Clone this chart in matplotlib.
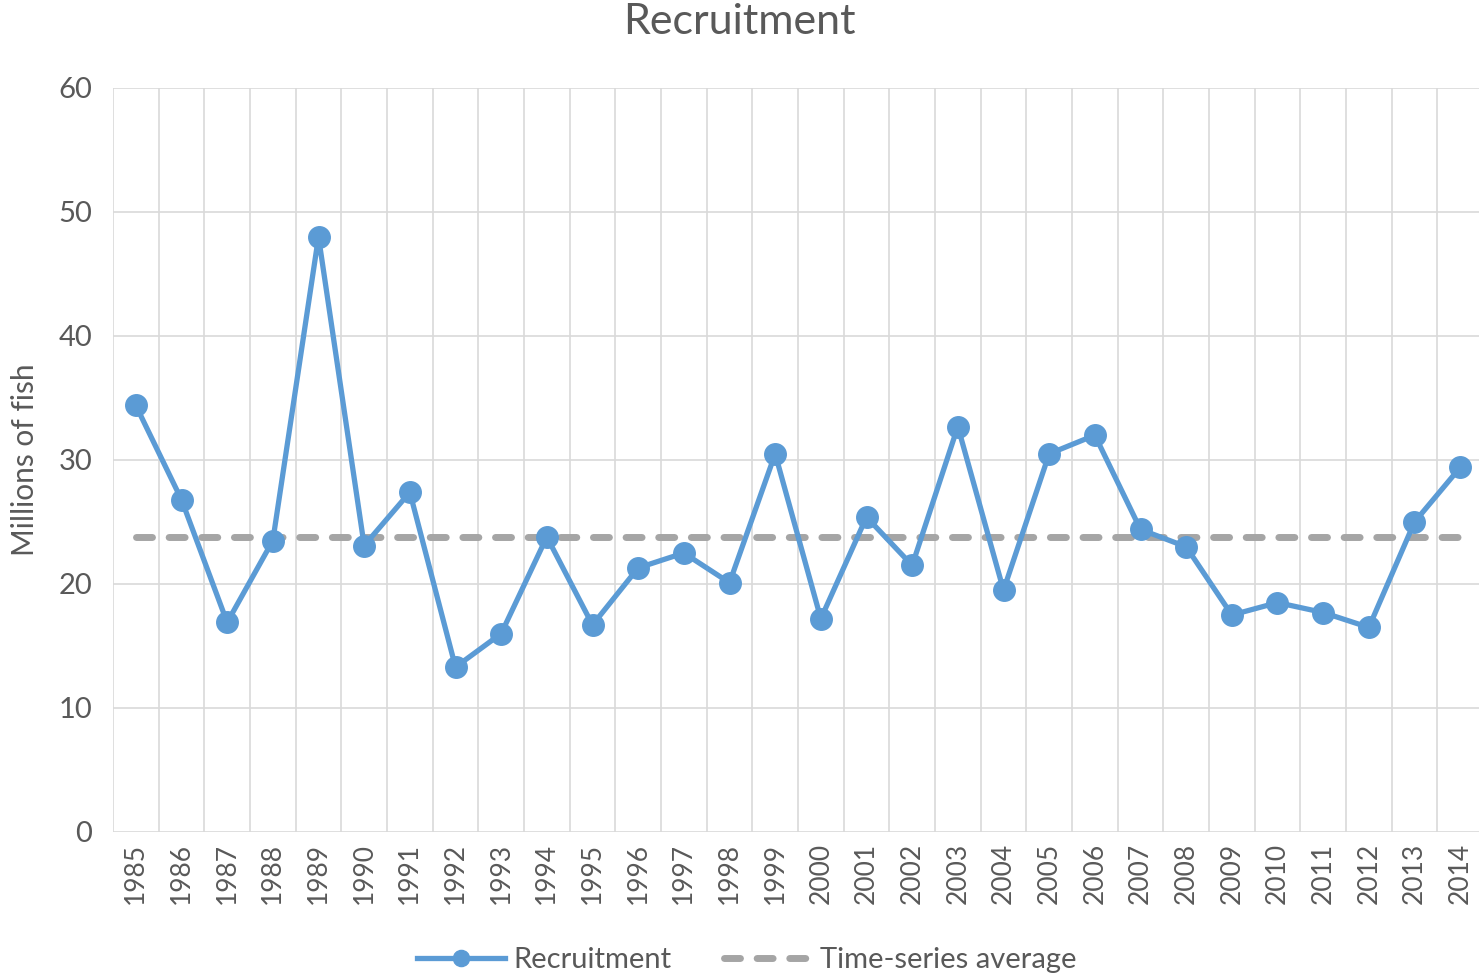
import matplotlib
matplotlib.use("Agg")
import matplotlib.pyplot as plt
import numpy as np

# ── Data ─────────────────────────────────────────────────────────────────────
years = list(range(1985, 2015))
recruitment = [34.4, 26.8, 16.9, 23.5, 48.0, 23.1, 27.4, 13.3, 16.0, 23.8,
               16.7, 21.3, 22.5, 20.1, 30.5, 17.2, 25.4, 21.5, 32.7, 19.5,
               30.5, 32.0, 24.4, 23.0, 17.5, 18.5, 17.7, 16.5, 25.0, 29.4]
ts_average = 23.8

BLUE = "#5B9BD5"
GREY = "#A5A5A5"
TEXT = "#595959"
GRID = "#D9D9D9"

plt.rcParams["font.family"] = ["Lato", "DejaVu Sans"]

fig = plt.figure(figsize=(14.79, 9.76), dpi=100)
ax = fig.add_axes([113 / 1479, 1 - 832 / 976, 1370 / 1479, (832 - 88) / 976])

x = np.arange(len(years))
ax.plot(x, [ts_average] * len(years), color=GREY, lw=5, ls=(0, (2.3, 2.4)),
        dash_capstyle="round", label="Time-series average", zorder=2)
ax.plot(x, recruitment, color=BLUE, lw=3.8, marker="o", ms=15.5,
        label="Recruitment", zorder=3)

ax.set_xlim(-0.5, len(years) - 0.5)
ax.set_ylim(0, 60)
ax.set_yticks(range(0, 61, 10))
ax.set_xticks(x)
ax.set_xticklabels([str(y) for y in years], rotation=90)
ax.set_xticks(np.arange(-0.5, len(years), 1), minor=True)

ax.grid(True, axis="y", which="major", color=GRID, lw=1.2)
ax.grid(True, axis="x", which="minor", color=GRID, lw=1.2)
ax.set_axisbelow(True)
for s in ax.spines.values():
    s.set_visible(False)
ax.tick_params(which="both", length=0)
ax.tick_params(axis="y", labelsize=21, labelcolor=TEXT, pad=15)
ax.tick_params(axis="x", labelsize=19, labelcolor=TEXT, pad=8)

fig.text(25 / 1479, 1 - 460 / 976, "Millions of fish", rotation=90,
         fontsize=21.5, color=TEXT, ha="center", va="center")
fig.text(0.5, 1 - 22 / 976, "Recruitment", fontsize=31, color=TEXT,
         ha="center", va="center")

handles, labels = ax.get_legend_handles_labels()
leg = fig.legend(handles[::-1], labels[::-1], loc="center",
                 bbox_to_anchor=(0.505, 1 - 960 / 976), ncol=2, frameon=False,
                 fontsize=21, handlelength=3.0, handletextpad=0.3,
                 columnspacing=1.8, markerscale=0.75, numpoints=1)
for t in leg.get_texts():
    t.set_color(TEXT)

fig.savefig("out.png", dpi=100)
